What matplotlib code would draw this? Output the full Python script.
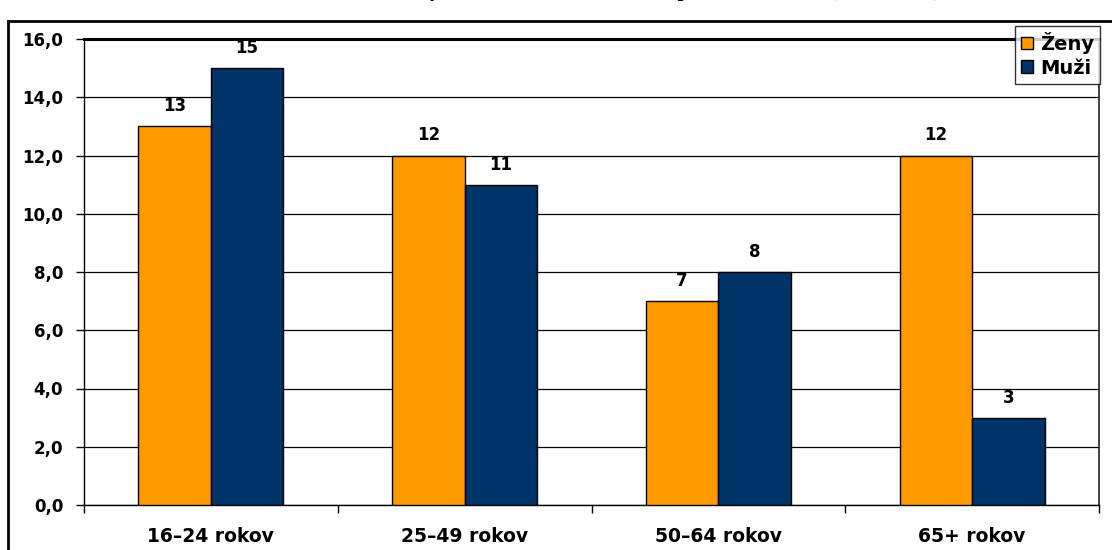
import numpy as np
import matplotlib
matplotlib.use('Agg')
import matplotlib.pyplot as plt
from matplotlib.patches import Rectangle
from matplotlib.ticker import MultipleLocator, FixedLocator

# Data
categories = ['16–24 rokov', '25–49 rokov', '50–64 rokov', '65+ rokov']
zeny = [13, 12, 7, 12]
muzi = [15, 11, 8, 3]
series_names = ['Ženy', 'Muži']
title = 'Celková miera rizika chudoby žien a mužov v roku 2008 podľa veku osôb (SILC, v %)'

orange = '#FF9900'
navy = '#003366'

plt.rcParams['font.family'] = ['DejaVu Sans']
plt.rcParams['font.weight'] = 'bold'

fig = plt.figure(figsize=(11.12, 5.5), dpi=100)
ax = fig.add_axes([84 / 1112, 1 - 505 / 550, (1099 - 84) / 1112, (505 - 39) / 550])

x = np.arange(len(categories))
w = 1 / 3.5
b1 = ax.bar(x - w / 2, zeny, w, color=orange, edgecolor='black', linewidth=1, zorder=3, label=series_names[0])
b2 = ax.bar(x + w / 2, muzi, w, color=navy, edgecolor='black', linewidth=1, zorder=3, label=series_names[1])

for bars, vals in ((b1, zeny), (b2, muzi)):
    for rect, v in zip(bars, vals):
        ax.annotate(f'{v}', (rect.get_x() + rect.get_width() / 2, v),
                    xytext=(0, 8), textcoords='offset points',
                    ha='center', va='bottom', fontsize=12, fontweight='bold')

ax.set_xlim(-0.5, len(categories) - 0.5)
ax.set_ylim(0, 16)
ax.yaxis.set_major_locator(MultipleLocator(2))
ax.set_yticklabels([f'{v:.1f}'.replace('.', ',') for v in ax.get_yticks()])
ax.yaxis.grid(True, color='black', linewidth=0.9, zorder=0)

ax.set_xticks(x)
ax.set_xticklabels(categories)
ax.xaxis.set_minor_locator(FixedLocator(np.arange(-0.5, len(categories), 1)))
ax.tick_params(axis='x', which='major', length=0, pad=16, labelsize=13.5)
ax.tick_params(axis='x', which='minor', length=6, width=1, color='black')
ax.tick_params(axis='y', length=6, width=1, pad=9, labelsize=12)

for side in ('left', 'bottom'):
    ax.spines[side].set_color('black')
    ax.spines[side].set_linewidth(1)
ax.spines['top'].set_linewidth(2.2)
ax.spines['right'].set_linewidth(1.2)
ax.spines['right'].set_color('#222222')

# outer chart frame
fig.patches.append(Rectangle((8 / 1112, -0.1), 1.2, 1 - 21 / 550 + 0.1,
                             transform=fig.transFigure, fill=False,
                             edgecolor='black', linewidth=2))

leg = fig.legend(handles=[b1, b2], loc='upper left',
                 bbox_to_anchor=(1015 / 1112, 1 - 26 / 550),
                 prop={'weight': 'bold', 'size': 14}, frameon=True,
                 fancybox=False, edgecolor='black', handlelength=0.65,
                 handleheight=0.65, handletextpad=0.35, borderpad=0.3,
                 labelspacing=0.25, borderaxespad=0)
leg.get_frame().set_linewidth(1)

fig.text(0.5, 1 + 4 / 550, title, ha='center', va='baseline',
         family=['Liberation Serif', 'DejaVu Serif'], fontsize=15, fontweight='bold')

fig.savefig('out.png', dpi=100)
